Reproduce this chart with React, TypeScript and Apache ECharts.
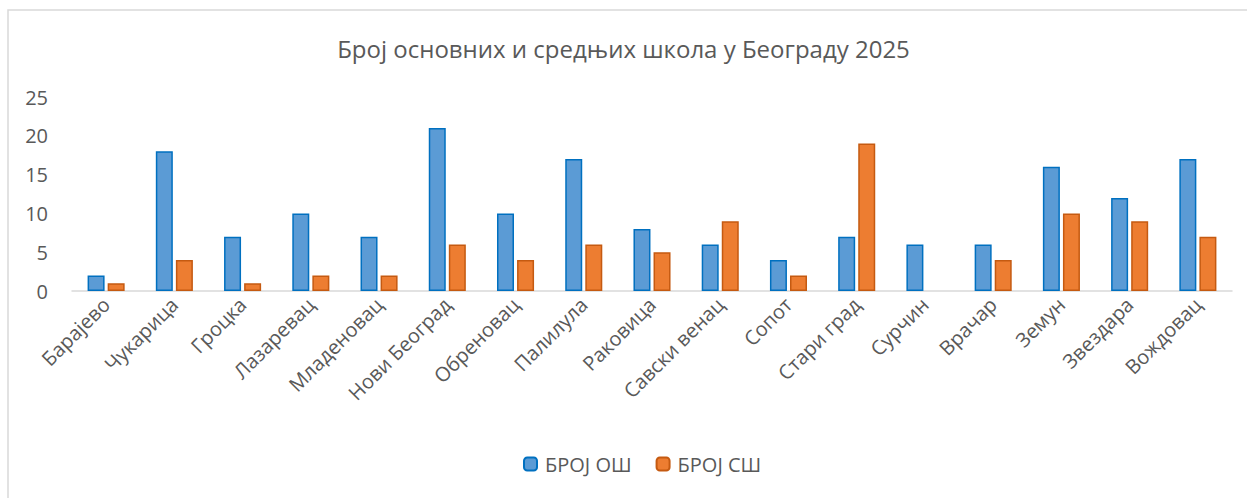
import React, { useEffect, useRef } from "react";
import * as echarts from "echarts";

const categories = [
  "Барајево", "Чукарица", "Гроцка", "Лазаревац", "Младеновац", "Нови Београд",
  "Обреновац", "Палилула", "Раковица", "Савски венац", "Сопот", "Стари град",
  "Сурчин", "Врачар", "Земун", "Звездара", "Вождовац",
];
const brojOS = [2, 18, 7, 10, 7, 21, 10, 17, 8, 6, 4, 7, 6, 6, 16, 12, 17];
const brojSS = [1, 4, 1, 2, 2, 6, 4, 6, 5, 9, 2, 19, 0, 4, 10, 9, 7];
const seriesNames = ["БРОЈ ОШ", "БРОЈ СШ"];
const titleText = "Број основних и средњих школа у Београду 2025";

const FONT = "'Open Sans', sans-serif";

export default function App() {
  const ref = useRef<HTMLDivElement>(null);
  useEffect(() => {
    if (!ref.current) return;
    const chart = echarts.init(ref.current, undefined, { renderer: "svg" });
    chart.setOption({
      animation: false,
      backgroundColor: "#fff",
      textStyle: { fontFamily: FONT },
      title: {
        text: titleText,
        left: "center",
        top: 31,
        textStyle: { fontFamily: FONT, fontSize: 24, fontWeight: "normal", color: "#595959" },
      },
      legend: {
        bottom: 19,
        left: 518,
        itemWidth: 13,
        itemHeight: 13,
        itemGap: 24,
        textStyle: { fontFamily: FONT, fontSize: 20, color: "#595959", padding: [0, 0, 0, 3] },
        data: seriesNames,
      },
      graphic: [
        {
          type: "rect",
          shape: { x: 8, y: 10, width: 1260, height: 520 },
          style: { fill: "none", stroke: "#D9D9D9", lineWidth: 1.5 },
          silent: true,
        },
      ],
      grid: { left: 72, right: 15, top: 97, height: 194, containLabel: false },
      xAxis: {
        type: "category",
        data: categories,
        axisLine: { lineStyle: { color: "#D9D9D9", width: 1.5 } },
        axisTick: { show: false },
        axisLabel: {
          interval: 0,
          rotate: 45,
          margin: 10,
          fontFamily: FONT,
          fontSize: 20,
          color: "#595959",
        },
      },
      yAxis: {
        type: "value",
        min: 0,
        max: 25,
        interval: 5,
        splitLine: { show: false },
        axisLine: { show: false },
        axisTick: { show: false },
        axisLabel: { fontFamily: FONT, fontSize: 20, color: "#595959", margin: 24 },
      },
      series: [
        {
          name: seriesNames[0],
          type: "bar",
          data: brojOS,
          barWidth: 17,
          barGap: "18%",
          itemStyle: { color: "#5B9BD5", borderColor: "#0070C0", borderWidth: 1.5 },
        },
        {
          name: seriesNames[1],
          type: "bar",
          data: brojSS.map((v) => (v === 0 ? null : v)),
          barWidth: 17,
          barGap: "18%",
          itemStyle: { color: "#ED7D31", borderColor: "#C55A11", borderWidth: 1.5 },
        },
      ],
    });
    return () => chart.dispose();
  }, []);
  return (
    <div
      ref={ref}
      style={{ position: "absolute", left: 0, top: 0, width: 1247, height: 498 }}
    />
  );
}
